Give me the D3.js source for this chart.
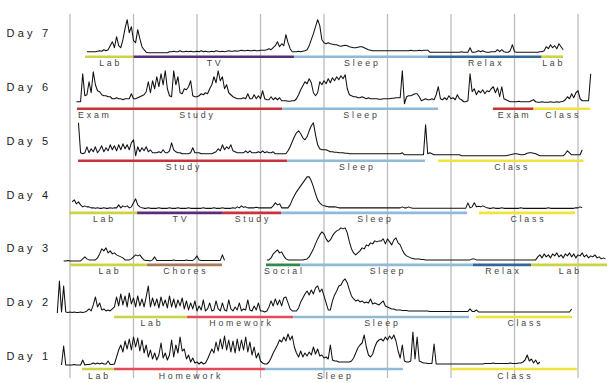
<!DOCTYPE html>
<html><head><meta charset="utf-8">
<script src="https://cdn.jsdelivr.net/npm/d3@7"></script>
<style>body{margin:0;background:#fff}svg{display:block}</style>
</head><body>
<svg id="chart" width="610" height="383"></svg>
<script>
// ---- data ----
const dayLabels = ["Day 7","Day 6","Day 5","Day 4","Day 3","Day 2","Day 1"];
const startHours = [0.8, 0.3, 0.4, 0.1, -0.3, -0.6, -0.4];   // first sample (hour of day)
const stepHours = 0.1;                                          // sampling interval
const gridHours = [0,3,6,9,12,15,18,21,24];

// EDA level (arbitrary units), one row = 10 samples = 1 hour
const eda7 = [
 [3,3,3,3,3,3.5,4,3.5,5,4],
 [5,9,13,7,18,9,7,15,26,35],
 [22,28,14,12,25,16,8,5,2.5,2],
 [2,2,2,2,2,2,2,2,2,3],
 [3,3.5,3,3,4,3,3,3.5,3,3.5],
 [3,3,3.5,3,4,3,3.5,3,3,3.5],
 [3,4,3.5,3,3.5,3,3.5,4,3.5,3.5],
 [4,3.5,4,4.5,4,4,4.5,4,4,4.5],
 [4,4,4.5,4.5,4.5,5,6,5,7,9],
 [13,8,11,9,20,12,6,3,3,3],
 [3.5,3,3.5,4,5,9,15,21,28,35],
 [29,15,12,11,12,11,10.5,10,10,9],
 [8.5,9,9.5,9,8,7.5,7,7,7.5,8],
 [8,7,6,5,4.5,4,4,4,4,4],
 [4,4,4,4,4,4,4,4,4,4],
 [4,4,4,4.5,4,4,4,4.5,4,4.5],
 [4.5,4.5,2.5,2.5,2.5,2.5,2.5,2.5,2.5,2.5],
 [2.5,2.5,2.5,2.5,2.5,2.5,2.5,3,2.5,2.5],
 [2.5,7,2.5,2.5,3,4,3,4,3,2.5],
 [2.5,3,3,3,5,3,5,3,2.5,2.5],
 [4,10,3,2.5,2.5,2.5,2.5,2.5,2.5,2.5],
 [2.5,2.5,2.5,2.5,3,3,4,8,6,10],
 [7,9,6,11,8,5]
];
const eda6 = [
 [5,5,5,33,11,12,25,14,35,22],
 [16,15,12,11,11,10,10,8,8,9],
 [8,8,7,8,8,8,13,8,8,9],
 [10,11,12,15,25,14,26,18,30,20],
 [33,22,36,18,11,10,36,22,30,14],
 [13,18,17,20,26,11,10,10,11,13],
 [12,14,13,18,22,30,24,36,26,30],
 [18,22,14,12,10,9,8,8,8,9],
 [8,13,8,8,12,8,11,8,16,8],
 [7,7,10,7,9,7,9,6,6,6],
 [5.5,5.5,6,6,8,12,17,21,25,23],
 [28,24,14,11,14,25,22,26,23,28],
 [24,29,26,30,27,31,28,32,18,12],
 [11,10,10,9,9,10,9,8,9,8],
 [8,8,8,7.5,7.5,8,8,8,8,8.5],
 [8.5,9,9,9,36,3,10,11,11,12],
 [13,13,10,6,7,8,7,7,8,7],
 [12,20,8,7,9,7,11,8,9,7],
 [12,8,7,5,5,6,33,15,18,12],
 [16,14,17,13,16,15,18,20,14,19],
 [10,20,8,7,6,5,5,5,5,5.5],
 [5,5,5,5,5,6,7,5,4.5,4.5],
 [5,4.5,4.5,4.5,5,4.5,4.5,5,4.5,5],
 [5.5,7,10,8,13,9,14,16,8,6],
 [6,6,6,33]
];
const eda5 = [
 [36,6,5,6,12,6,10,7,12,6],
 [9,13,7,11,8,14,9,13,8,14],
 [9,15,10,14,9,16,19,3,12,7],
 [11,8,12,7,9,6,6,6,7,6],
 [9,6,6,8,16,9,7,6,6,5],
 [5,5,5,6,11,6,6,6,5,5],
 [5,5,5,5,6,7,10,8,14,9],
 [12,10,14,8,7,6,6,6,6,8],
 [6,8,6,6,6,7,6,8,6,7],
 [6,6,7,5,5,5,5,5,5,8],
 [12,17,22,26,28,25,21,19,22,28],
 [33,36,24,14,10,9,9,9,8,7],
 [7,6.5,6.5,6,6,6,5.5,5.5,5,5],
 [5,5,5,5,5,5,5,5,5,5],
 [5,5,5,5,5,5,5,5,5,5],
 [5,5,5,6,4,4,4,4,4,4],
 [4,4,4,4,34,5,6,5,4,4],
 [4,4,4,4,4,4,4,4,4,4],
 [4,3,3,3,3,3,3,3,3,3],
 [3,3,3,3,3,3,3,3,3,3],
 [3,3,3,3.5,4,4.5,5,5,4.5,4],
 [4,4.5,5.5,6,6,5.5,5,4,3,3],
 [3,3,3,3,3,3,3,3,3,3],
 [5,8,6,4,4,4,4,4,9]
];
const eda4 = [
 [9,11,7,9,6,4,5,4,4,3],
 [3,2.5,3,2.5,2.5,3,2.5,2.5,3,2.5],
 [3,3,6,3,5,4,5,3,4,8],
 [12,6,4,3,2.5,2.5,3,2.5,2.5,2.5],
 [2.5,3,2.5,2.5,2.5,2.5,3,2.5,2.5,2.5],
 [3,2.5,2.5,2.5,2.5,3,2.5,2.5,2.5,2.5],
 [2.5,2.5,3,2.5,2.5,2.5,2.5,3,2.5,2.5],
 [2.5,3,2.5,2.5,2.5,2.5,3,2.5,4,3],
 [5,3.5,4,3,3,3,3,3.5,3,3],
 [3,3,3,3,3,5,8,6,7,3],
 [3,3,3,6,11,15,19,22,25,28],
 [31,34,34,30,24,17,11,8,6,5],
 [4.5,4,4,4,4,3.5,3,3,3,3],
 [3,3,3,3,3,3,3,3,3,3],
 [3,3,3,3,3,3,3,3,3,3],
 [3,3,3,3,3,3,4,3,3,4],
 [3,2.7,2.7,2.7,2.7,2.7,2.7,2.7,2.7,2.7],
 [2.7,2.7,2.7,2.7,2.7,2.7,2.7,2.7,2.7,2.7],
 [2.7,2.7,2.7,2.7,2.7,2.7,2.7,8,3,4],
 [8,4,4.5,4,5,4,3,2.5,2.5,3],
 [2.5,2.5,2.5,3,2.5,2.5,2.5,2.5,2.5,2.5],
 [2.5,2.5,3,2.5,2.5,2.5,2.5,2.5,2.5,2.5],
 [2.5,2.5,2.5,2.5,2.5,3,2.5,2.5,2.5,2.5],
 [2.5,2.5,2.5,2.5,2.5,2.5,2.5,2.5,3,3],
 [4,3]
];
const eda3 = [
 [2,2,2.5,2,2,2,2,2,2,4],
 [6,4,3,3,3,3,5,9,14,12],
 [15,10,12,9,10,8,7,6,5,3],
 [3,3,4,6,8,7,8,5,3,2.5],
 [2.5,2,3,6,2.5,2.5,2.5,2.5,2.5,2.5],
 [2.5,2.5,3,2.5,2.5,2.5,2.5,2.5,3,2.5],
 [2.5,2.5,4,7,3,2.5,2.5,2.5,2.5,2.5],
 [2.5,2.5,2.5,2.5,2.5,8,2.5,null,null,null],
 [null,null,null,null,null,null,null,null,null,null],
 [null,null,null,null,null,null,3,3,5,9],
 [11,13,10,11,7,4,3,3,3,3],
 [3,3,3,3,3.5,4,6,10,14,19],
 [24,28,31,29,24,21,23,27,30,32],
 [33,35,34,35,30,21,14,10,8,10],
 [12,15,14,18,17,20,19,22,21,22],
 [22,24,19,24,21,18,23,25,20,18],
 [13,9,7,6,5,4.5,4,4,4,3.5],
 [3.5,3,3,3,3,3,3,3,3,3],
 [3,3,3,3,3,3,3,3,3,3],
 [3,3,3,4,4,3,3,3,3,3],
 [3,3,3,3,3,3,3,3,3,3],
 [3,3,3,3,3,3,3,3,3,3],
 [3,3,3,3,6,8,5,9,6,8],
 [5,9,7,10,6,8,5,9,7,10],
 [6,9,5,8,7,10,6,8,5,7],
 [6,8,5,6,4,5,4]
];
const eda2 = [
 [2,34,3,29,3,2.5,3,2.5,3,2.5],
 [2.5,3,2.5,3,4,6,4,10,18,8],
 [12,5,6,4,5,4,6,8,18,9],
 [21,10,19,8,22,11,17,8,19,9],
 [16,8,18,29,8,17,9,16,7,18],
 [9,15,7,19,8,16,7,15,9,17],
 [6,14,5,12,6,14,4,9,5,15],
 [4,6,12,4,5,14,6,4,12,5],
 [4,15,6,4,8,5,12,4,6,5],
 [15,5,4,9,5,12,4,4,3,4],
 [8,14,9,16,10,15,9,17,18,12],
 [6,4,4,4,7,13,17,21,24,20],
 [25,21,27,29,23,26,19,12,5,5],
 [14,20,24,29,30,34,36,32,25,19],
 [16,14,15,13,14,12,13,12,16,11],
 [12,11,10,12,14,9,8,7,6,6],
 [5,5,5,4.5,4.5,4.5,4,4,4,4],
 [4,4,4,4,4,4,3.5,3.5,3.5,3.5],
 [3.5,3.5,3.5,3.5,3.5,3.5,3.5,3.5,3.5,3.5],
 [3.5,3.5,3.5,3.5,3.5,6,3.5,3.5,5,3],
 [3,3,3,3,3,3,3,3,3,3],
 [3,3,3,3,3,3,3,3,3,3],
 [3,3,3,3,3,3,3,3,3,3],
 [3,3,3,3,3,3,3,3,3,3],
 [3,3,3,6]
];
const eda1 = [
 [2,21,2,2,2,2,2.5,2,2,2],
 [7,2,2.5,2.5,3,4,3,4,3,4],
 [3,3,6,2.5,2.5,3,10,17,22,15],
 [26,18,28,17,30,20,29,16,27,14],
 [22,10,17,8,14,7,12,24,9,14],
 [7,12,27,10,22,14,30,16,18,8],
 [12,5,9,4,5,3,5,3,4,8],
 [13,18,14,25,16,28,18,31,17,27],
 [15,26,14,28,16,27,17,30,15,25],
 [12,20,9,14,6,4,3,3,5,9],
 [14,18,22,27,25,30,26,33,27,31],
 [20,14,10,16,10,14,11,15,12,20],
 [13,18,11,12,9,10,8,22,7,6],
 [6,5,5,5,5,5,5,6,9,14],
 [19,22,24,32,20,12,10,13,20,25],
 [27,28,26,30,27,31,28,32,26,16],
 [9,22,6,5,5,6,35,8,30,6],
 [5,4,4,3.5,3.5,3.5,23,3,3,3],
 [3,3,3,3,3,3,3,3,3,3],
 [3,3,3,3,3,3,3,3,3,3],
 [3.5,3.5,3.5,3.5,4,3.5,3.5,3.5,3.5,3.5],
 [3.5,3.5,4,3.5,3.5,3.5,4,4,5,7],
 [12,6,8,4,7,3,5]
];
const edaByDay = [eda7, eda6, eda5, eda4, eda3, eda2, eda1];

// activities: [label, start hour, end hour]
const act7 = [["Lab",0.71,3.0],["TV",3.0,10.58],["Sleep",10.58,16.91],["Relax",16.91,22.28],["Lab",22.28,23.29]];
const act6 = [["Exam",0.33,1.89],["Study",1.89,10.02],["Sleep",10.02,17.39],["Exam",19.98,21.9],["Class",21.9,24.57]];
const act5 = [["Study",0.38,10.25],["Sleep",10.25,16.77],["Class",17.39,24.26]];
const act4 = [["Lab",-0.05,3.17],["TV",3.17,7.18],["Study",7.18,9.97],["Sleep",9.97,18.76],["Class",19.32,23.86]];
const act3 = [["Lab",0.0,3.64],["Chores",3.64,7.18],["Social",9.26,10.87],["Sleep",10.87,19.04],["Relax",19.04,21.78],["Lab",21.78,25.37]];
const act2 = [["Lab",2.08,5.53],["Homework",5.53,10.54],["Sleep",10.54,18.85],["Class",19.18,23.72]];
const act1 = [["Lab",0.57,2.08],["Homework",2.08,9.21],["Sleep",9.21,15.73],["Class",18.0,23.95]];
const actByDay = [act7, act6, act5, act4, act3, act2, act1];

// ---- styles ----
const activityColor = {
  Lab:"#cbd444", Class:"#f2e33c", TV:"#5b2c78", Sleep:"#8fbad8", Relax:"#33679a",
  Exam:"#c8323a", Study:"#c8323a", Homework:"#e24c58", Chores:"#a77a5c", Social:"#2f8a48"
};

// ---- drawing ----
const svg = d3.select("#chart");
const x = d3.scaleLinear().domain([0,24]).range([70,578]);
const barY = d3.scaleLinear().domain([0,6]).range([56.7,369]);
const labelY = d3.scaleLinear().domain([0,6]).range([33,356]);
const v = d3.scaleLinear().domain([0,40]).range([0,-40]);
const font = "Liberation Sans, Arial, Helvetica, sans-serif";

svg.append("g").selectAll("line").data(gridHours).join("line")
  .attr("x1",d=>x(d)).attr("x2",d=>x(d)).attr("y1",14).attr("y2",378)
  .attr("stroke","#bcbcbc").attr("stroke-width",1.3);

dayLabels.forEach((lab,r)=>{
  const g = svg.append("g");
  const base = barY(r);
  const zero = base - 2;
  g.append("text").attr("x",6.5).attr("y",labelY(r)).attr("dominant-baseline","central")
    .attr("font-family",font).attr("font-size",11)
    .attr("letter-spacing",3.2).attr("fill","#1a1a1a").text(lab);

  const pts = [];
  edaByDay[r].forEach((row,k)=>row.forEach((val,j)=>{
    pts.push({t: startHours[r] + k + j*stepHours, v: val});
  }));
  const line = d3.line().defined(d=>d.v!=null).x(d=>x(d.t)).y(d=>zero + v(d.v));
  g.append("path").attr("d",line(pts)).attr("fill","none")
    .attr("stroke","#111").attr("stroke-width",1.05).attr("stroke-linejoin","round");

  g.selectAll("line.act").data(actByDay[r]).join("line").attr("class","act")
    .attr("x1",d=>x(d[1])).attr("x2",d=>x(d[2])).attr("y1",base).attr("y2",base)
    .attr("stroke",d=>activityColor[d[0]]).attr("stroke-width",2.6);

  g.selectAll("text.act").data(actByDay[r]).join("text").attr("class","act")
    .attr("x",d=>x((d[1]+d[2])/2)+1.4).attr("y",base+9.5)
    .attr("text-anchor","middle").attr("font-family",font)
    .attr("font-size",8.8).attr("letter-spacing",2.8).attr("fill","#444").text(d=>d[0]);
});
</script>
</body></html>
